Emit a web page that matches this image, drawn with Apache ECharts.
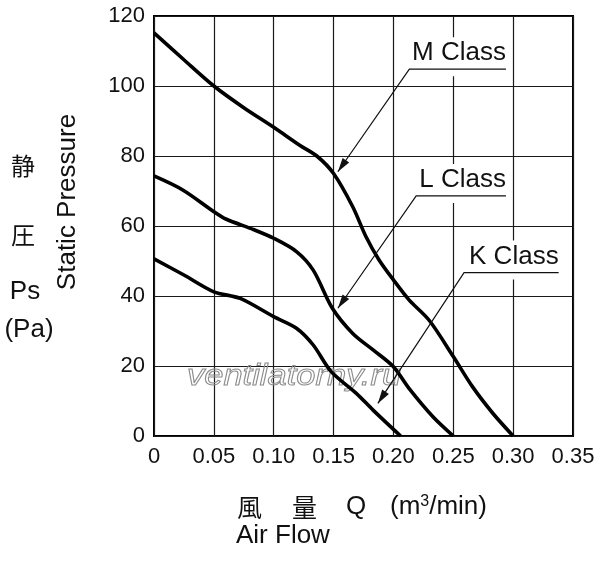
<!DOCTYPE html>
<html lang="en">
<head>
<meta charset="UTF-8">
<title>Static Pressure - Air Flow</title>
<script src="https://cdn.jsdelivr.net/npm/echarts@6/dist/echarts.min.js"></script>
<style>html,body{margin:0;padding:0;background:#fff;}</style>
</head>
<body>
<div id="chart" style="width:600px;height:562px;"></div>
<script>
// axis ranges
var flowTicks = [0, 0.05, 0.10, 0.15, 0.20, 0.25, 0.30, 0.35];
var pressTicks = [0, 20, 40, 60, 80, 100, 120];

// M Class curve
var flowM = [0, 0.025, 0.05, 0.075, 0.10, 0.122, 0.136, 0.15, 0.166, 0.177, 0.188, 0.20, 0.213, 0.23, 0.25, 0.266, 0.283, 0.30];
var pressM = [115.2, 107.5, 100, 93.8, 88.2, 83, 80, 75, 65.5, 57, 50.3, 44.6, 38.9, 33, 22.7, 14.1, 6.5, 0];

// L Class curve
var flowL = [0, 0.024, 0.05, 0.06, 0.083, 0.10, 0.119, 0.133, 0.149, 0.166, 0.183, 0.20, 0.213, 0.233, 0.25];
var pressL = [74.3, 70.3, 64.1, 62, 59, 56.5, 52.7, 47.4, 36.5, 29.3, 24.6, 19.8, 13.6, 5.5, 0];

// K Class curve
var flowK = [0, 0.025, 0.05, 0.072, 0.10, 0.119, 0.133, 0.148, 0.169, 0.183, 0.206];
var pressK = [50.6, 46, 41.2, 39.3, 34.1, 30.8, 26, 18.4, 12.2, 7.4, 0];

// callouts: label, underline from/to (data coords), arrow tip on curve
var classNames = ['M Class', 'L Class', 'K Class'];
var calloutFrom = [[0.2133, 104.8], [0.219, 68.6], [0.259, 46.7]];
var calloutToX = [0.294, 0.294, 0.338];
var calloutTip = [[0.1536, 75.5], [0.1536, 36.5], [0.187, 9.3]];

function zip(xs, ys) {
    return xs.map(function (x, i) { return [x, ys[i]]; });
}

var FONT = '"Liberation Sans", Arial, Helvetica, sans-serif';
var CJK = '"Noto Sans CJK JP", "Noto Sans CJK SC", sans-serif';

var chart = echarts.init(document.getElementById('chart'));

var curveStyle = { color: '#000', width: 3.6 };

chart.setOption({
    backgroundColor: '#fff',
    animation: false,
    grid: {
        left: 154, right: 27, top: 16, bottom: 126,
        show: true, borderColor: '#000', borderWidth: 2, backgroundColor: 'transparent'
    },
    xAxis: {
        type: 'value',
        min: flowTicks[0], max: flowTicks[flowTicks.length - 1], interval: 0.05,
        axisLine: { show: false },
        axisTick: { show: false },
        splitLine: { show: true, lineStyle: { color: '#1a1a1a', width: 1.2 } },
        axisLabel: {
            color: '#111', fontSize: 22, fontFamily: FONT, margin: 10,
            formatter: function (v) { return v === 0 ? '0' : v.toFixed(2); }
        }
    },
    yAxis: {
        type: 'value',
        min: pressTicks[0], max: pressTicks[pressTicks.length - 1], interval: 20,
        axisLine: { show: false },
        axisTick: { show: false },
        splitLine: { show: true, lineStyle: { color: '#1a1a1a', width: 1.2 } },
        axisLabel: { color: '#111', fontSize: 22, fontFamily: FONT, margin: 9 }
    },
    series: [
        { name: 'M Class', type: 'line', smooth: 0.3, symbol: 'none', lineStyle: curveStyle, data: zip(flowM, pressM) },
        { name: 'L Class', type: 'line', smooth: 0.3, symbol: 'none', lineStyle: curveStyle, data: zip(flowL, pressL) },
        { name: 'K Class', type: 'line', smooth: 0.3, symbol: 'none', lineStyle: curveStyle, data: zip(flowK, pressK) }
    ]
});

// build callouts and side texts
var g = [];
classNames.forEach(function (name, i) {
    var a = chart.convertToPixel({ gridIndex: 0 }, calloutFrom[i]);
    var b = chart.convertToPixel({ gridIndex: 0 }, [calloutToX[i], calloutFrom[i][1]]);
    var tip = chart.convertToPixel({ gridIndex: 0 }, calloutTip[i]);
    g.push({
        type: 'rect', z: 10,
        shape: { x: a[0] - 2, y: a[1] - 32, width: b[0] - a[0] + 4, height: 39 },
        style: { fill: '#fff' }
    });
    g.push({
        type: 'text', z: 11, x: b[0], y: a[1] - 3,
        style: { text: name, font: '26px ' + FONT, fill: '#111', align: 'right', verticalAlign: 'bottom' }
    });
    g.push({
        type: 'polyline', z: 11,
        shape: { points: [[b[0], b[1]], [a[0], a[1]], [tip[0], tip[1]]] },
        style: { stroke: '#111', lineWidth: 1.2, fill: null }
    });
    var dx = tip[0] - a[0], dy = tip[1] - a[1];
    var len = Math.sqrt(dx * dx + dy * dy);
    var ux = dx / len, uy = dy / len;
    var hl = 14, hw = 4;
    g.push({
        type: 'polygon', z: 11,
        shape: {
            points: [
                [tip[0], tip[1]],
                [tip[0] - ux * hl - uy * hw, tip[1] - uy * hl + ux * hw],
                [tip[0] - ux * hl + uy * hw, tip[1] - uy * hl - ux * hw]
            ]
        },
        style: { fill: '#111' }
    });
});

g.push(
    { type: 'text', z: 1, x: 187, y: 362, scaleX: 1.15,
      style: { text: 'ventilatorny.ru', font: 'italic 30px ' + FONT, fill: 'rgba(0,0,0,0)', stroke: '#8c8c8c', lineWidth: 1 } },
    { type: 'text', x: 23, y: 166, style: { text: '静', font: '24px ' + CJK, fill: '#111', align: 'center', verticalAlign: 'middle' } },
    { type: 'text', x: 23, y: 235, style: { text: '圧', font: '24px ' + CJK, fill: '#111', align: 'center', verticalAlign: 'middle' } },
    { type: 'text', x: 25, y: 292, style: { text: 'Ps', font: '26px ' + FONT, fill: '#111', align: 'center', verticalAlign: 'middle' } },
    { type: 'text', x: 29, y: 330, style: { text: '(Pa)', font: '26px ' + FONT, fill: '#111', align: 'center', verticalAlign: 'middle' } },
    { type: 'text', x: 68, y: 202, rotation: Math.PI / 2,
      style: { text: 'Static Pressure', font: '26px ' + FONT, fill: '#111', align: 'center', verticalAlign: 'middle' } },
    { type: 'text', x: 237, y: 507, style: { text: '風', font: '25px ' + CJK, fill: '#111', verticalAlign: 'middle' } },
    { type: 'text', x: 292, y: 507, style: { text: '量', font: '25px ' + CJK, fill: '#111', verticalAlign: 'middle' } },
    { type: 'text', x: 346, y: 507, style: { text: 'Q', font: '26px ' + FONT, fill: '#111', verticalAlign: 'middle' } },
    { type: 'text', x: 390, y: 507,
      style: {
          text: '(m{sup|3}/min)', font: '26px ' + FONT, fill: '#111', verticalAlign: 'middle',
          rich: { sup: { fontSize: 16, fontFamily: FONT, verticalAlign: 'top', padding: [0, 0, 10, 0], fill: '#111' } }
      } },
    { type: 'text', x: 236, y: 536, style: { text: 'Air Flow', font: '26px ' + FONT, fill: '#111', verticalAlign: 'middle' } }
);

chart.setOption({ graphic: g });
</script>
</body>
</html>
